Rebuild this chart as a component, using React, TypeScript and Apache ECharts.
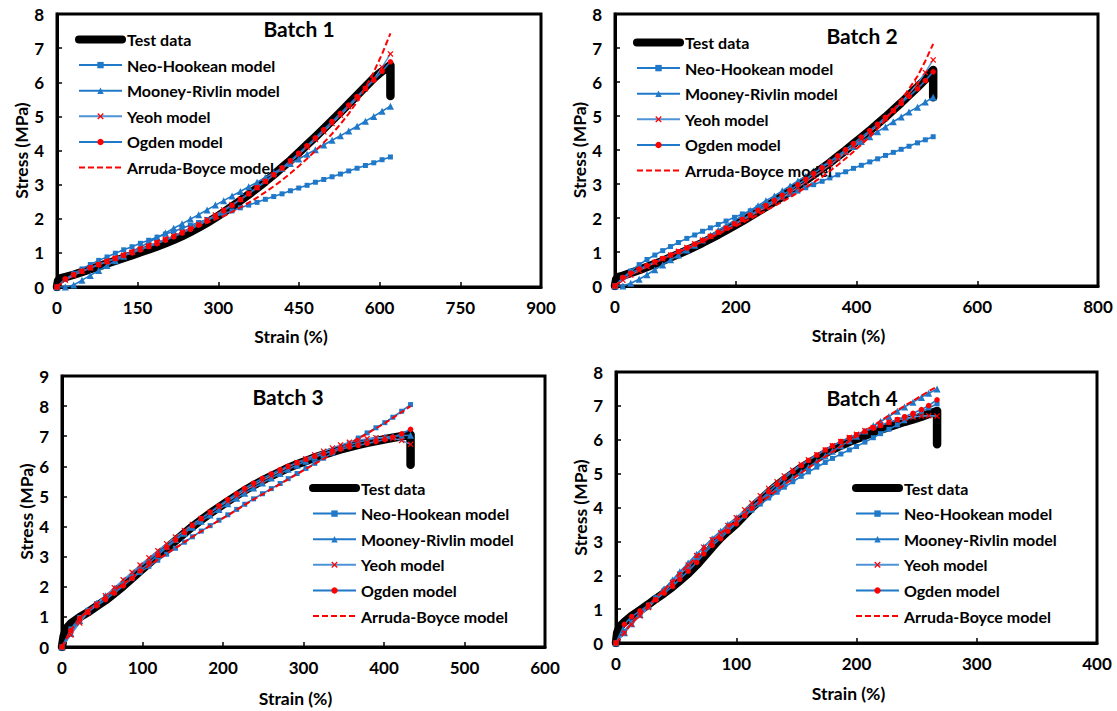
import React, { useEffect, useRef } from "react";
import * as echarts from "echarts";

// ---------- Batch 1 ----------
const b1Strain = [0,15.5,31,46.5,62,77.5,93,108.5,124,139.5,155,170.5,186,201.5,217,232.5,248,263.5,279,294.5,310,325.5,341,356.5,372,387.5,403,418.5,434,449.5,465,480.5,496,511.5,527,542.5,558,573.5,589,604.5,620];
const b1TestX = [0,2,6,15.5,31,46.5,62,77.5,93,108.5,124,139.5,155,170.5,186,201.5,217,232.5,248,263.5,279,294.5,310,325.5,341,356.5,372,387.5,403,418.5,434,449.5,465,480.5,496,511.5,527,542.5,558,573.5,589,604.5,620,620];
const b1TestY = [0,0.18,0.25,0.29,0.36,0.44,0.52,0.6,0.69,0.77,0.85,0.93,1.02,1.1,1.19,1.28,1.38,1.49,1.61,1.74,1.88,2.03,2.19,2.36,2.53,2.71,2.9,3.09,3.29,3.5,3.71,3.94,4.17,4.4,4.64,4.88,5.12,5.37,5.62,5.87,6.12,6.32,6.5,5.6];
const b1Neo = [0,0.22,0.39,0.53,0.66,0.78,0.88,0.99,1.09,1.18,1.28,1.37,1.46,1.55,1.63,1.72,1.81,1.89,1.98,2.07,2.15,2.23,2.32,2.4,2.48,2.57,2.65,2.73,2.82,2.9,2.98,3.07,3.15,3.23,3.31,3.4,3.48,3.56,3.64,3.73,3.81];
const b1Mooney = [0,0,0.06,0.2,0.34,0.48,0.63,0.77,0.9,1.04,1.17,1.31,1.45,1.58,1.72,1.85,1.99,2.12,2.26,2.4,2.53,2.67,2.8,2.94,3.07,3.21,3.35,3.48,3.62,3.75,3.89,4.02,4.16,4.3,4.43,4.57,4.71,4.86,5.0,5.15,5.3];
const b1Yeoh = [0,0.2,0.34,0.46,0.56,0.66,0.75,0.84,0.93,1.02,1.11,1.2,1.3,1.4,1.5,1.61,1.72,1.84,1.97,2.11,2.26,2.41,2.57,2.74,2.91,3.09,3.28,3.47,3.67,3.88,4.1,4.32,4.55,4.79,5.03,5.28,5.54,5.81,6.1,6.44,6.83];
const b1Ogden = [0,0.24,0.36,0.46,0.56,0.65,0.74,0.83,0.92,1.0,1.09,1.18,1.27,1.37,1.47,1.58,1.69,1.81,1.94,2.08,2.23,2.39,2.56,2.73,2.91,3.1,3.29,3.49,3.7,3.92,4.14,4.37,4.61,4.85,5.09,5.33,5.58,5.82,6.06,6.32,6.6];
const b1Arruda = [0,0.22,0.37,0.49,0.6,0.7,0.8,0.89,0.98,1.07,1.16,1.25,1.34,1.43,1.52,1.61,1.7,1.79,1.88,1.98,2.08,2.2,2.33,2.47,2.62,2.78,2.95,3.13,3.33,3.54,3.76,3.99,4.23,4.49,4.77,5.08,5.43,5.84,6.3,6.83,7.43];

// ---------- Batch 2 ----------
const b2Strain = [0,13,26,40,53,66,79,92,105,119,132,145,158,171,184,198,211,224,237,250,264,277,290,303,316,329,343,356,369,382,395,408,422,435,448,461,474,487,501,514,527];
const b2TestX = [0,2,5,13,26,40,53,66,79,92,105,119,132,145,158,171,184,198,211,224,237,250,264,277,290,303,316,329,343,356,369,382,395,408,422,435,448,461,474,487,501,514,527,527];
const b2TestY = [0,0.2,0.26,0.3,0.38,0.47,0.56,0.65,0.74,0.84,0.94,1.05,1.16,1.27,1.39,1.51,1.64,1.78,1.91,2.05,2.19,2.33,2.48,2.63,2.79,2.95,3.11,3.28,3.46,3.63,3.81,3.99,4.18,4.37,4.57,4.77,4.97,5.18,5.39,5.61,5.85,6.08,6.35,5.55];
const b2Neo = [0,0.24,0.44,0.63,0.78,0.91,1.04,1.16,1.28,1.4,1.5,1.61,1.71,1.81,1.91,2.02,2.12,2.21,2.31,2.41,2.51,2.61,2.7,2.79,2.89,2.98,3.08,3.18,3.27,3.36,3.46,3.55,3.65,3.74,3.84,3.93,4.02,4.11,4.21,4.3,4.39];
const b2Mooney = [0,0,0.08,0.2,0.33,0.48,0.62,0.77,0.91,1.06,1.2,1.35,1.49,1.64,1.78,1.93,2.07,2.22,2.36,2.51,2.65,2.8,2.94,3.09,3.23,3.38,3.52,3.67,3.81,3.96,4.1,4.25,4.39,4.54,4.68,4.83,4.97,5.12,5.26,5.41,5.55];
const b2Yeoh = [0,0.17,0.32,0.45,0.57,0.69,0.8,0.91,1.02,1.13,1.24,1.35,1.46,1.58,1.7,1.82,1.94,2.06,2.19,2.32,2.46,2.6,2.75,2.9,3.06,3.22,3.39,3.56,3.74,3.93,4.12,4.32,4.52,4.72,4.93,5.15,5.4,5.66,5.95,6.28,6.65];
const b2Ogden = [0,0.25,0.38,0.5,0.6,0.71,0.81,0.91,1.01,1.12,1.23,1.34,1.46,1.58,1.7,1.83,1.96,2.09,2.23,2.37,2.52,2.67,2.82,2.98,3.14,3.31,3.48,3.65,3.83,4.01,4.19,4.38,4.57,4.76,4.96,5.16,5.37,5.58,5.8,6.04,6.3];
const b2Arruda = [0,0.2,0.35,0.47,0.58,0.69,0.8,0.9,1.0,1.1,1.2,1.31,1.42,1.53,1.64,1.75,1.86,1.98,2.1,2.22,2.35,2.48,2.61,2.75,2.9,3.05,3.21,3.38,3.56,3.75,3.95,4.16,4.39,4.63,4.89,5.17,5.47,5.8,6.17,6.62,7.12];

// ---------- Batch 3 ----------
const b3Strain = [0,11,22,32,43,54,65,76,87,97,108,119,130,141,152,162,173,184,195,206,217,227,238,249,260,271,281,292,303,314,325,336,346,357,368,379,390,401,411,422,433];
const b3TestX = [0,2,5,11,22,32,43,54,65,76,87,97,108,119,130,141,152,162,173,184,195,206,217,227,238,249,260,271,281,292,303,314,325,336,346,357,368,379,390,401,411,422,433,433];
const b3TestY = [0,0.35,0.6,0.78,0.99,1.15,1.35,1.55,1.78,2.02,2.28,2.52,2.78,3.03,3.28,3.53,3.78,4.0,4.22,4.44,4.64,4.84,5.03,5.2,5.37,5.53,5.68,5.82,5.95,6.07,6.18,6.29,6.39,6.48,6.56,6.64,6.71,6.78,6.84,6.9,6.95,7.0,7.05,6.05];
const b3Neo = [0,0.6,0.98,1.22,1.44,1.65,1.86,2.07,2.28,2.48,2.68,2.88,3.08,3.28,3.48,3.66,3.85,4.03,4.21,4.39,4.57,4.74,4.92,5.09,5.26,5.43,5.59,5.76,5.93,6.1,6.27,6.44,6.6,6.77,6.94,7.11,7.28,7.45,7.63,7.83,8.05];
const b3Mooney = [0,0.45,0.88,1.2,1.45,1.7,1.95,2.2,2.44,2.67,2.9,3.13,3.35,3.57,3.78,3.98,4.18,4.38,4.57,4.76,4.94,5.11,5.28,5.45,5.61,5.76,5.9,6.04,6.17,6.3,6.42,6.53,6.63,6.72,6.8,6.87,6.93,6.97,7.0,7.02,7.03];
const b3Yeoh = [0,0.4,0.8,1.14,1.42,1.7,1.97,2.23,2.48,2.72,2.96,3.2,3.43,3.65,3.87,4.07,4.27,4.47,4.66,4.85,5.03,5.2,5.37,5.53,5.69,5.84,5.98,6.12,6.25,6.38,6.5,6.61,6.71,6.8,6.87,6.92,6.95,6.95,6.93,6.86,6.73];
const b3Ogden = [0,0.55,0.95,1.17,1.37,1.57,1.79,2.03,2.28,2.53,2.79,3.05,3.3,3.55,3.8,4.03,4.26,4.48,4.69,4.9,5.09,5.27,5.44,5.6,5.75,5.89,6.01,6.12,6.23,6.33,6.42,6.5,6.57,6.64,6.7,6.76,6.82,6.89,6.97,7.08,7.23];
const b3Arruda = [0,0.55,0.95,1.21,1.44,1.66,1.88,2.09,2.3,2.5,2.7,2.9,3.1,3.29,3.48,3.66,3.84,4.02,4.2,4.37,4.55,4.72,4.9,5.07,5.24,5.41,5.57,5.74,5.91,6.08,6.25,6.42,6.58,6.75,6.92,7.09,7.26,7.43,7.61,7.8,8.0];

// ---------- Batch 4 ----------
const b4Strain = [0,7,13,20,27,33,40,47,53,60,67,73,80,87,93,100,107,113,120,127,134,140,147,154,160,167,174,180,187,194,200,207,214,220,227,234,240,247,254,260,267];
const b4TestX = [0,1,3,7,13,20,27,33,40,47,53,60,67,73,80,87,93,100,107,113,120,127,134,140,147,154,160,167,174,180,187,194,200,207,214,220,227,234,240,247,254,260,267,267];
const b4TestY = [0,0.3,0.48,0.62,0.8,0.97,1.14,1.3,1.47,1.66,1.84,2.05,2.3,2.54,2.83,3.1,3.3,3.52,3.78,4.0,4.22,4.45,4.66,4.82,5.0,5.17,5.3,5.45,5.6,5.71,5.83,5.94,6.02,6.12,6.22,6.3,6.38,6.46,6.53,6.6,6.68,6.76,6.85,5.87];
const b4Neo = [0,0.35,0.62,0.88,1.12,1.33,1.56,1.8,2.02,2.26,2.5,2.71,2.94,3.16,3.35,3.55,3.75,3.92,4.1,4.28,4.45,4.6,4.76,4.92,5.05,5.19,5.33,5.45,5.58,5.7,5.8,5.93,6.06,6.18,6.31,6.44,6.56,6.69,6.82,6.94,7.06];
const b4Mooney = [0,0.3,0.57,0.84,1.1,1.34,1.6,1.86,2.1,2.36,2.62,2.84,3.08,3.3,3.5,3.7,3.88,4.04,4.22,4.39,4.56,4.71,4.88,5.04,5.19,5.36,5.52,5.66,5.82,5.97,6.1,6.26,6.41,6.54,6.69,6.84,6.97,7.11,7.25,7.37,7.5];
const b4Yeoh = [0,0.3,0.55,0.8,1.05,1.27,1.52,1.78,2.03,2.3,2.58,2.83,3.05,3.25,3.47,3.7,3.93,4.13,4.35,4.56,4.76,4.93,5.1,5.27,5.41,5.56,5.7,5.82,5.95,6.07,6.16,6.27,6.36,6.44,6.52,6.58,6.63,6.67,6.7,6.71,6.7];
const b4Ogden = [0,0.55,0.78,0.95,1.12,1.28,1.47,1.67,1.88,2.12,2.38,2.63,2.88,3.08,3.3,3.52,3.76,3.98,4.22,4.46,4.68,4.87,5.06,5.24,5.39,5.55,5.7,5.82,5.95,6.06,6.15,6.25,6.34,6.42,6.51,6.6,6.68,6.78,6.89,7.01,7.18];
const b4Arruda = [0,0.3,0.58,0.85,1.1,1.33,1.57,1.82,2.05,2.3,2.54,2.76,2.99,3.22,3.41,3.61,3.8,3.97,4.15,4.33,4.51,4.67,4.85,5.02,5.17,5.34,5.5,5.64,5.8,5.96,6.1,6.26,6.42,6.56,6.72,6.87,7.0,7.15,7.3,7.43,7.57];

// ---------- labels ----------
const titles = ["Batch 1", "Batch 2", "Batch 3", "Batch 4"];
const seriesNames = ["Test data", "Neo-Hookean model", "Mooney-Rivlin model", "Yeoh model", "Ogden model", "Arruda-Boyce model"];
const xMaxes = [900, 800, 600, 400];
const xIntervals = [150, 200, 100, 100];
const yMaxes = [8, 8, 9, 8];

const panels = [
  { strain: b1Strain, tx: b1TestX, ty: b1TestY, models: [b1Neo, b1Mooney, b1Yeoh, b1Ogden, b1Arruda] },
  { strain: b2Strain, tx: b2TestX, ty: b2TestY, models: [b2Neo, b2Mooney, b2Yeoh, b2Ogden, b2Arruda] },
  { strain: b3Strain, tx: b3TestX, ty: b3TestY, models: [b3Neo, b3Mooney, b3Yeoh, b3Ogden, b3Arruda] },
  { strain: b4Strain, tx: b4TestX, ty: b4TestY, models: [b4Neo, b4Mooney, b4Yeoh, b4Ogden, b4Arruda] },
];

// layout (pixels)
const grids = [
  { left: 57, top: 14, width: 484, height: 273 },
  { left: 615, top: 14, width: 483, height: 272 },
  { left: 62, top: 376, width: 483, height: 271 },
  { left: 616, top: 372, width: 481, height: 271 },
];
const titlePos = [[299, 28], [862, 35], [288, 396], [862, 397]];
const legendPos = [[75, 31.5], [633, 34.5], [309, 480], [852, 480]];
const xNameGap = [40, 40, 42, 41];
const yNameGap = [25, 27, 25, 26];

const BLUE = "#1f78c8";
const LIGHTBLUE = "#4f93d6";
const RED = "#ff0000";
const FONT = "Lato";
const X_SYMBOL = "path://M0,1.4L1.4,0L5,3.6L8.6,0L10,1.4L6.4,5L10,8.6L8.6,10L5,6.4L1.4,10L0,8.6L3.6,5Z";

const zip = (xs: number[], ys: number[]) => xs.map((x, k) => [x, ys[k]]);

function buildOption() {
  const series: any[] = [];
  panels.forEach((p, i) => {
    const base = { type: "line", xAxisIndex: i, yAxisIndex: i, animation: false };
    series.push({
      ...base, name: seriesNames[0], data: zip(p.tx, p.ty), symbol: "none",
      lineStyle: { color: "#000", width: 8.5, cap: "round", join: "round" }, itemStyle: { color: "#000" }, z: 2,
    });
    series.push({
      ...base, name: seriesNames[1], data: zip(p.strain, p.models[0]), symbol: "rect", symbolSize: 5,
      lineStyle: { color: BLUE, width: 1.6 }, itemStyle: { color: BLUE }, z: 3,
    });
    series.push({
      ...base, name: seriesNames[2], data: zip(p.strain, p.models[1]), symbol: "triangle", symbolSize: 7,
      lineStyle: { color: BLUE, width: 1.6 }, itemStyle: { color: BLUE }, z: 3,
    });
    series.push({
      ...base, name: seriesNames[3], data: zip(p.strain, p.models[2]), symbol: X_SYMBOL, symbolSize: 6,
      lineStyle: { color: LIGHTBLUE, width: 1.4 }, itemStyle: { color: RED }, z: 4,
    });
    series.push({
      ...base, name: seriesNames[4], data: zip(p.strain, p.models[3]), symbol: "circle", symbolSize: 5.5,
      lineStyle: { color: BLUE, width: 1.6 }, itemStyle: { color: RED }, z: 4,
    });
    series.push({
      ...base, name: seriesNames[5], data: zip(p.strain, p.models[4]), symbol: "none",
      lineStyle: { color: RED, width: 2, type: [6, 3] }, itemStyle: { color: RED }, z: 5,
    });
  });

  const tickStyle = { fontFamily: FONT, fontWeight: "bold", fontSize: 17, color: "#000" };
  const nameStyle = { fontFamily: FONT, fontWeight: "bold", fontSize: 17.5, color: "#000" };

  return {
    animation: false,
    textStyle: { fontFamily: FONT },
    grid: grids.map((g) => ({ ...g, show: true, borderColor: "#000", borderWidth: 3, backgroundColor: "transparent" })),
    xAxis: grids.map((_, i) => ({
      type: "value", gridIndex: i, min: 0, max: xMaxes[i], interval: xIntervals[i],
      name: "Strain (%)", nameLocation: "middle", nameGap: xNameGap[i],
      nameTextStyle: { ...nameStyle, padding: [0, 16, 0, 0] },
      axisLine: { show: true, lineStyle: { color: "#000", width: 3 } },
      axisTick: { show: true, inside: true, length: 5, lineStyle: { color: "#000", width: 1.5 } },
      axisLabel: { ...tickStyle, margin: 12 },
      splitLine: { show: false },
    })),
    yAxis: grids.map((_, i) => ({
      type: "value", gridIndex: i, min: 0, max: yMaxes[i], interval: 1,
      name: "Stress (MPa)", nameLocation: "middle", nameGap: yNameGap[i],
      nameTextStyle: { ...nameStyle },
      axisLine: { show: true, lineStyle: { color: "#000", width: 3 } },
      axisTick: { show: true, inside: true, length: 5, lineStyle: { color: "#000", width: 1.5 } },
      axisLabel: { ...tickStyle, margin: 13 },
      splitLine: { show: false },
    })),
    legend: legendPos.map(([l, t]) => ({
      orient: "vertical", left: l, top: t, itemWidth: 43, itemHeight: 8, itemGap: 9.6,
      selectedMode: false, padding: 0,
      textStyle: { fontFamily: FONT, fontWeight: "bold", fontSize: 16, color: "#000", lineHeight: 16 },
      data: [
        { name: seriesNames[0], itemStyle: { opacity: 0 }, lineStyle: { width: 8, cap: "round", color: "#000" } },
        seriesNames[1], seriesNames[2], seriesNames[3], seriesNames[4],
        { name: seriesNames[5], itemStyle: { opacity: 0 } },
      ],
    })),
    graphic: titlePos.map(([x, y], i) => ({
      type: "text", x, y, z: 10,
      style: {
        text: titles[i], fill: "#000", fontFamily: FONT, fontWeight: "bold", fontSize: 21,
        align: "center", verticalAlign: "middle", textAlign: "center", textVerticalAlign: "middle",
      },
    })),
    series,
  };
}

export default function App() {
  const ref = useRef<HTMLDivElement>(null);
  useEffect(() => {
    const chart = echarts.init(ref.current!, null, { renderer: "svg" });
    chart.setOption(buildOption() as any);
    return () => chart.dispose();
  }, []);
  return <div ref={ref} style={{ position: "fixed", left: 0, top: 0, width: 1117, height: 711, background: "#fff" }} />;
}
